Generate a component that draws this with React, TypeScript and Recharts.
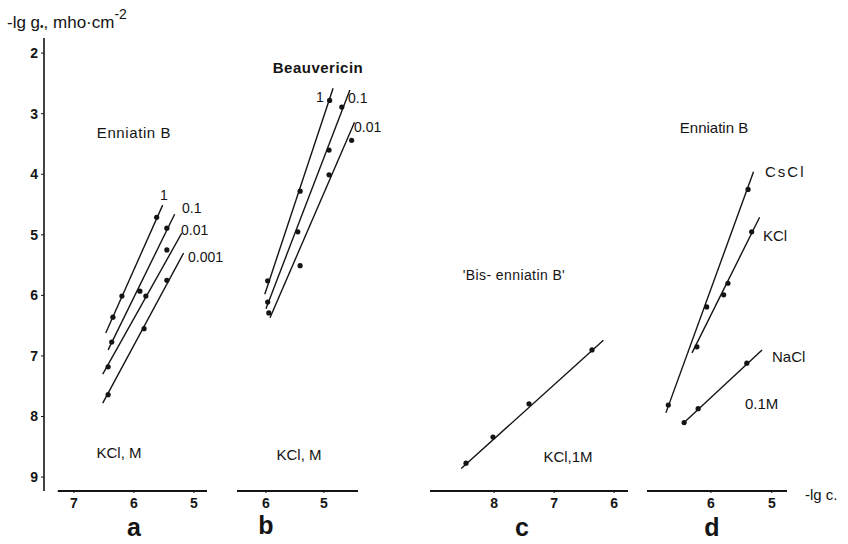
import { ComposedChart, Line, Scatter, XAxis, YAxis, ReferenceLine } from 'recharts';

// -lg g (ordinate) shared by all four panels
const yTicks = [2, 3, 4, 5, 6, 7, 8, 9];
const yDomain = [1.75, 9.23];

// tick labels of the -lg c axes
const aTicks = [7, 6, 5];
const bTicks = [6, 5];
const cTicks = [8, 7, 6];
const dTicks = [7, 6, 5];

// a: Enniatin B, KCl 1 / 0.1 / 0.01 / 0.001 M   [-lg c, -lg g]
const aConc = ['1', '0.1', '0.01', '0.001'];
const aPts1 = [[6.35, 6.36], [6.2, 6.01], [5.62, 4.71]];
const aFit1 = [[6.47, 6.62], [5.52, 4.51]];
const aPts01 = [[6.37, 6.77], [5.9, 5.93], [5.45, 4.89]];
const aFit01 = [[6.43, 6.9], [5.32, 4.66]];
const aPts001 = [[6.43, 7.18], [5.8, 6.01], [5.45, 5.25]];
const aFit001 = [[6.52, 7.3], [5.2, 4.97]];
const aPts0001 = [[6.43, 7.64], [5.83, 6.55], [5.45, 5.75]];
const aFit0001 = [[6.52, 7.78], [5.17, 5.3]];

// b: Beauvericin, KCl 1 / 0.1 / 0.01 M
const bConc = ['1', '0.1', '0.01'];
const bPts1 = [[5.97, 5.76], [5.41, 4.28], [4.9, 2.78]];
const bFit1 = [[6.02, 5.98], [4.84, 2.58]];
const bPts01 = [[5.97, 6.11], [5.45, 4.95], [4.91, 3.6], [4.69, 2.89]];
const bFit01 = [[6.0, 6.22], [4.55, 2.61]];
const bPts001 = [[5.95, 6.29], [5.41, 5.51], [4.91, 4.01], [4.52, 3.44]];
const bFit001 = [[5.93, 6.37], [4.47, 3.14]];

// c: 'Bis-enniatin B', KCl 1 M
const cPts = [[8.47, 8.77], [8.02, 8.34], [7.42, 7.79], [6.37, 6.9]];
const cFit = [[8.55, 8.86], [6.18, 6.74]];

// d: Enniatin B, 0.1 M CsCl / KCl / NaCl
const dSalts = ['CsCl', 'KCl', 'NaCl'];
const dPtsCs = [[5.39, 4.25], [6.07, 6.19], [6.7, 7.81]];
const dFitCs = [[5.3, 3.96], [6.74, 7.94]];
const dPtsK = [[5.33, 4.95], [5.72, 5.8], [5.79, 5.99], [6.23, 6.85]];
const dFitK = [[5.2, 4.71], [6.31, 6.95]];
const dPtsNa = [[5.41, 7.12], [6.21, 7.87], [6.44, 8.1]];
const dFitNa = [[5.16, 6.9], [6.44, 8.1]];

const INK = '#141414';
const FONT = '"Liberation Sans", Arial, sans-serif';

const toXY = (arr: number[][]) => arr.map(([x, y]) => ({ x, y }));

interface Series {
  pts: number[][];
  fit: number[][];
}

interface PanelProps {
  left: number;
  width: number;
  domain: [number, number];
  ticks: number[];
  series: Series[];
  withY?: boolean;
  axisFrom?: number;
}

const Dot = (props: any) => <circle cx={props.cx} cy={props.cy} r={2.6} fill={INK} />;

const tickStyle = { fill: INK, fontSize: 14, fontWeight: 700, fontFamily: FONT };

function Panel({ left, width, domain, ticks, series, withY, axisFrom }: PanelProps) {
  return (
    <div style={{ position: 'absolute', left, top: 38 }}>
      <ComposedChart width={width} height={483} margin={{ top: 0, right: 0, bottom: 0, left: 0 }}>
        <XAxis
          dataKey="x"
          type="number"
          reversed
          domain={domain}
          ticks={ticks}
          allowDataOverflow
          height={30}
          tickSize={2}
          tickMargin={5}
          axisLine={axisFrom === undefined ? { stroke: INK, strokeWidth: 2 } : false}
          tickLine={{ stroke: INK }}
          tick={tickStyle}
        />
        <YAxis
          dataKey="y"
          type="number"
          reversed
          domain={yDomain}
          ticks={yTicks}
          allowDataOverflow
          hide={!withY}
          width={44}
          tickSize={3}
          tickMargin={3}
          axisLine={{ stroke: INK, strokeWidth: 1.6 }}
          tickLine={{ stroke: INK }}
          tick={tickStyle}
        />
        {axisFrom !== undefined && (
          <ReferenceLine
            segment={[{ x: axisFrom, y: yDomain[1] }, { x: domain[0], y: yDomain[1] }]}
            stroke={INK}
            strokeWidth={2}
          />
        )}
        {series.map((s, i) => (
          <Line
            key={`fit-${i}`}
            data={toXY(s.fit)}
            dataKey="y"
            stroke={INK}
            strokeWidth={1.4}
            dot={false}
            isAnimationActive={false}
          />
        ))}
        {series.map((s, i) => (
          <Scatter key={`pts-${i}`} data={toXY(s.pts)} shape={Dot} isAnimationActive={false} />
        ))}
      </ComposedChart>
    </div>
  );
}

function T({ x, y, children, size = 14, weight = 400, anchor = 'start', spacing }: any) {
  return (
    <text
      x={x}
      y={y}
      fontSize={size}
      fontWeight={weight}
      textAnchor={anchor}
      fontFamily={FONT}
      fill={INK}
      letterSpacing={spacing}
    >
      {children}
    </text>
  );
}

export default function App() {
  return (
    <div
      style={{
        position: 'absolute',
        left: 0,
        top: 0,
        width: 848,
        height: 544,
        background: '#fff',
        overflow: 'hidden',
      }}
    >
      <Panel
        left={0}
        width={207}
        domain={[4.78, 7.5]}
        axisFrom={7.27}
        ticks={aTicks}
        withY
        series={[
          { pts: aPts1, fit: aFit1 },
          { pts: aPts01, fit: aFit01 },
          { pts: aPts001, fit: aFit001 },
          { pts: aPts0001, fit: aFit0001 },
        ]}
      />
      <Panel
        left={237}
        width={121}
        domain={[4.41, 6.5]}
        ticks={bTicks}
        series={[
          { pts: bPts1, fit: bFit1 },
          { pts: bPts01, fit: bFit01 },
          { pts: bPts001, fit: bFit001 },
        ]}
      />
      <Panel left={430} width={198} domain={[5.77, 9.07]} ticks={cTicks} series={[{ pts: cPts, fit: cFit }]} />
      <Panel
        left={647}
        width={140}
        domain={[4.75, 7.05]}
        ticks={dTicks}
        series={[
          { pts: dPtsCs, fit: dFitCs },
          { pts: dPtsK, fit: dFitK },
          { pts: dPtsNa, fit: dFitNa },
        ]}
      />
      <svg width={848} height={544} style={{ position: 'absolute', left: 0, top: 0, pointerEvents: 'none' }}>
        <text x={7} y={28} fontSize={17} fontFamily={FONT} fill={INK}>
          -lg g<tspan fontSize={10} dy={2}>•</tspan>
          <tspan dy={-2}>, mho·cm</tspan>
          <tspan fontSize={14} dy={-9}>-2</tspan>
        </text>

        <T x={134} y={138} size={15} anchor="middle" spacing={0.6}>Enniatin B</T>
        <T x={160} y={200}>{aConc[0]}</T>
        <T x={182} y={213}>{aConc[1]}</T>
        <T x={181} y={235}>{aConc[2]}</T>
        <T x={188} y={262}>{aConc[3]}</T>
        <T x={119} y={458} size={15} anchor="middle">KCl, M</T>

        <T x={318} y={73} size={15} weight={700} anchor="middle" spacing={0.5}>Beauvericin</T>
        <T x={316} y={102}>{bConc[0]}</T>
        <T x={348} y={103}>{bConc[1]}</T>
        <T x={354} y={132}>{bConc[2]}</T>
        <T x={299} y={460} size={15} anchor="middle">KCl, M</T>

        <T x={514} y={280} size={14} anchor="middle" spacing={0.4}>'Bis- enniatin B'</T>
        <T x={568} y={462} size={15} anchor="middle">KCl,1M</T>

        <T x={714} y={133} size={15} anchor="middle">Enniatin B</T>
        <T x={765} y={177} size={15} spacing={2}>{dSalts[0]}</T>
        <T x={763} y={241} size={15}>{dSalts[1]}</T>
        <T x={772} y={362} size={15}>{dSalts[2]}</T>
        <T x={745} y={409} size={15}>0.1M</T>
        <T x={805} y={500} size={15}>-lg c.</T>

        <T x={134} y={536} size={25} weight={700} anchor="middle">a</T>
        <T x={266} y={534} size={25} weight={700} anchor="middle">b</T>
        <T x={522} y={536} size={25} weight={700} anchor="middle">c</T>
        <T x={712} y={536} size={25} weight={700} anchor="middle">d</T>
      </svg>
    </div>
  );
}
